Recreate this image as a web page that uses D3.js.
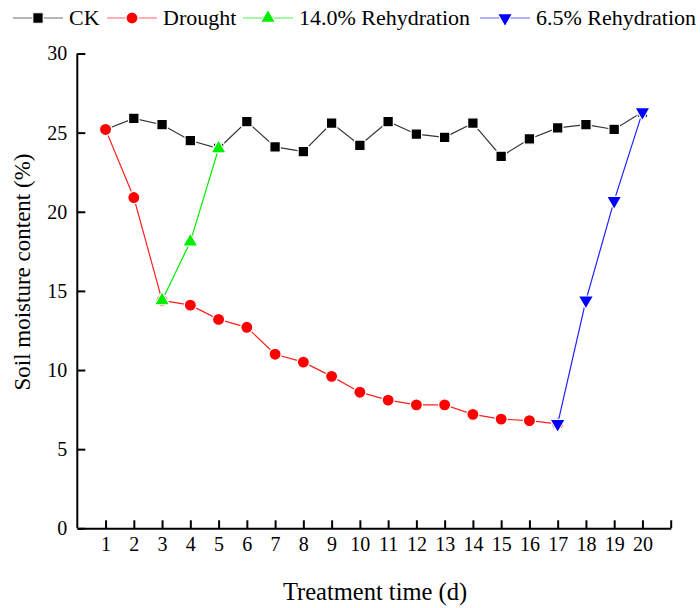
<!DOCTYPE html>
<html>
<head>
<meta charset="utf-8">
<script src="https://cdn.jsdelivr.net/npm/d3@7"></script>
<style>
  body { margin: 0; background: #fff; }
  svg text { font-family: "Liberation Serif", "Times New Roman", serif; fill: #000; }
</style>
</head>
<body>
<div id="chart"></div>
<script>
// values
const days = d3.range(1, 21);
const ck = [25.2, 25.9, 25.5, 24.5, 24.0, 25.7, 24.1, 23.8, 25.6, 24.2, 25.7, 24.9, 24.7, 25.6, 23.5, 24.6, 25.3, 25.5, 25.2, 26.3];
const droughtDays = d3.range(1, 18);
const drought = [25.2, 20.9, 14.4, 14.1, 13.2, 12.7, 11.0, 10.5, 9.6, 8.6, 8.1, 7.8, 7.8, 7.2, 6.9, 6.8, 6.6];
const rehyd14Days = [3, 4, 5];
const rehyd14 = [14.4, 18.1, 24.0];
const rehyd65Days = [17, 18, 19, 20];
const rehyd65 = [6.6, 14.4, 20.7, 26.3];
const seriesNames = ['CK', 'Drought', '14.0% Rehydration', '6.5% Rehydration'];
const yTicks = [0, 5, 10, 15, 20, 25, 30];

const w = 700, h = 608;
const margin = { left: 77.3, right: 29.3, top: 53.5, bottom: 79.7 };

const svg = d3.select('#chart')
   .append('svg')
   .attr('width', w)
   .attr('height', h);

const x = d3.scaleLinear().domain([0, 21]).range([margin.left, w - margin.right]);
const y = d3.scaleLinear().domain([0, 30]).range([h - margin.bottom, margin.top]);

// axes, ticks pointing inward like the original
const xAxis = d3.axisBottom(x)
   .tickValues(d3.range(1, 22))
   .tickFormat(d => (d <= 20 ? d : ''))
   .tickSizeInner(-8)
   .tickSizeOuter(0)
   .tickPadding(9);

const yAxis = d3.axisLeft(y)
   .tickValues(yTicks)
   .tickSizeInner(-8)
   .tickSizeOuter(0)
   .tickPadding(10);

const gx = svg.append('g')
   .attr('transform', 'translate(0,' + y(0) + ')')
   .call(xAxis);
const gy = svg.append('g')
   .attr('transform', 'translate(' + x(0) + ',0)')
   .call(yAxis);

[gx, gy].forEach(g => {
   g.select('.domain').attr('stroke', '#000').attr('stroke-width', 2);
   g.selectAll('.tick line').attr('stroke', '#000').attr('stroke-width', 2);
   g.selectAll('.tick text').style('font-size', '20px').attr('fill', '#000');
});
gy.select('.domain').attr('d', 'M0,' + y(30) + 'V' + y(0));

svg.append('text')
   .attr('x', (x(0) + x(21)) / 2 + 1)
   .attr('y', 600)
   .attr('text-anchor', 'middle')
   .style('font-size', '24.5px')
   .text('Treatment time (d)');

svg.append('text')
   .attr('transform', 'translate(30,272) rotate(-90)')
   .attr('text-anchor', 'middle')
   .style('font-size', '23px')
   .text('Soil moisture content (%)');

const line = d3.line()
   .x(d => x(d[0]))
   .y(d => y(d[1]));

const series = [
   { name: seriesNames[0], color: '#000000', lineColor: '#333333', days: days, values: ck, shape: d3.symbolSquare, size: 110, rot: 0 },
   { name: seriesNames[1], color: '#ff0000', lineColor: '#ff2020', days: droughtDays, values: drought, shape: d3.symbolCircle, size: 115, rot: 0 },
   { name: seriesNames[2], color: '#00ee00', lineColor: '#00ee00', days: rehyd14Days, values: rehyd14, shape: d3.symbolTriangle, size: 100, rot: 0 },
   { name: seriesNames[3], color: '#0000ff', lineColor: '#2020ff', days: rehyd65Days, values: rehyd65, shape: d3.symbolTriangle, size: 100, rot: 180 }
];

series.forEach(s => {
   const pts = s.days.map((d, i) => [d, s.values[i]]);
   svg.append('path')
      .datum(pts)
      .attr('d', line)
      .attr('fill', 'none')
      .attr('stroke', s.lineColor)
      .attr('stroke-width', 1.2);

   svg.selectAll(null)
      .data(pts)
      .enter()
      .append('path')
      .attr('d', d3.symbol().type(s.shape).size(s.size))
      .attr('transform', d => 'translate(' + x(d[0]) + ',' + y(d[1]) + ') rotate(' + s.rot + ')')
      .attr('fill', s.color)
      .attr('stroke', '#fff')
      .attr('stroke-width', 1.2);
});

// legend across the top
const legendX = [13, 107, 243, 480];
const legend = svg.append('g').attr('transform', 'translate(0,18)');
series.forEach((s, i) => {
   const g = legend.append('g').attr('transform', 'translate(' + legendX[i] + ',0)');
   g.append('line')
      .attr('x1', 0).attr('x2', 50)
      .attr('y1', 0).attr('y2', 0)
      .attr('stroke', s.lineColor)
      .attr('stroke-width', 1.2)
      .attr('opacity', 0.7);
   g.append('path')
      .attr('d', d3.symbol().type(s.shape).size(s.size))
      .attr('transform', 'translate(25,0) rotate(' + s.rot + ')')
      .attr('fill', s.color)
      .attr('stroke', '#fff')
      .attr('stroke-width', 1.2);
   g.append('text')
      .attr('x', 56)
      .attr('y', 7)
      .style('font-size', '22px')
      .text(s.name);
});
</script>
</body>
</html>
